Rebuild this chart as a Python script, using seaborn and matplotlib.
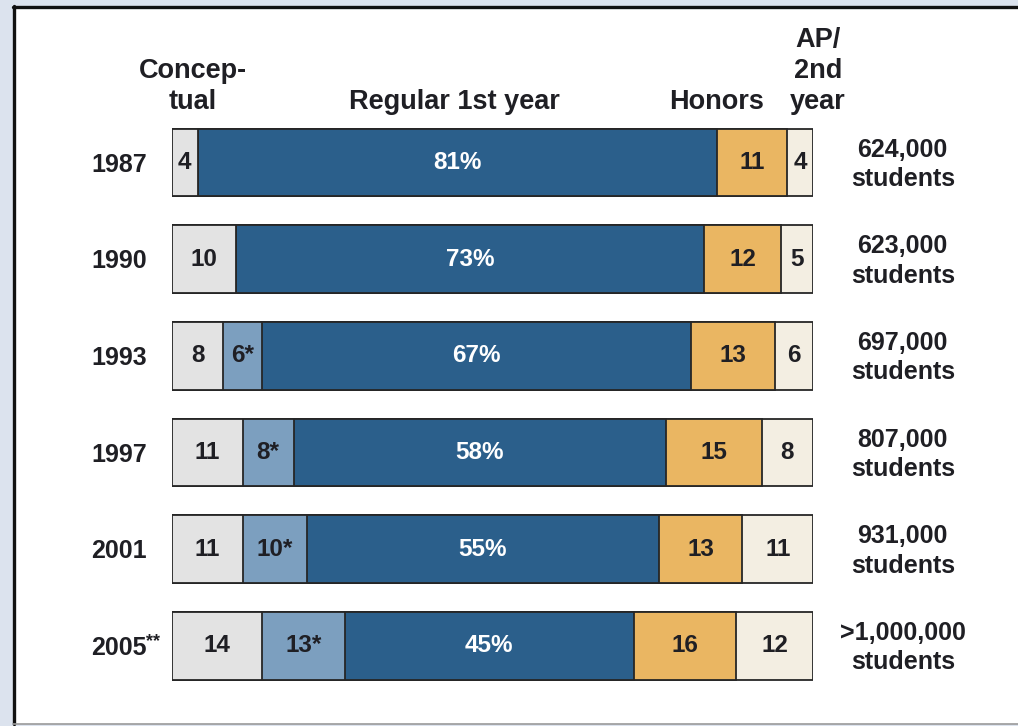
import numpy as np
import pandas as pd
import matplotlib
matplotlib.use("Agg")
import matplotlib.pyplot as plt
from matplotlib.patches import Rectangle
from matplotlib.lines import Line2D
import seaborn as sns

# data (percent of students in each course type)
years = ["1987", "1990", "1993", "1997", "2001", "2005"]
conceptual = [4, 10, 8, 11, 11, 14]
conceptual_star = [0, 0, 6, 8, 10, 13]
regular = [81, 73, 67, 58, 55, 45]
honors = [11, 12, 13, 15, 13, 16]
ap_2nd = [4, 5, 6, 8, 11, 12]
students = ["624,000", "623,000", "697,000", "807,000", "931,000", ">1,000,000"]

headers = ["Concep-\ntual", "Regular 1st year", "Honors", "AP/\n2nd\nyear"]
header_x = [3.3, 44.1, 85.0, 100.8]

colors = ["#e3e3e3", "#7c9fbf", "#2b5f8b", "#eab662", "#f3eee2"]
text_dark = "#1f1f24"

df = pd.DataFrame({
    "year": years,
    "conceptual": conceptual,
    "conceptual_star": conceptual_star,
    "regular": regular,
    "honors": honors,
    "ap": ap_2nd,
})
segs = ["conceptual", "conceptual_star", "regular", "honors", "ap"]
cum = df[segs].cumsum(axis=1)

sns.set_style("white")
plt.rcParams["font.family"] = ["Liberation Sans", "DejaVu Sans"]
plt.rcParams["font.weight"] = "bold"

fig = plt.figure(figsize=(10.18, 7.26), dpi=100)
fig.patch.set_facecolor("#dce3ee")

# white panel with the frame lines
W, H = 1018.0, 726.0
fig.add_artist(Rectangle((13 / W, 1 - 724 / H), 1.0, (724 - 6) / H,
                         transform=fig.transFigure, facecolor="white",
                         edgecolor="none", zorder=-5))
fig.add_artist(Line2D([13.5 / W, 13.5 / W], [1 - 6 / H, 1 - 724 / H],
                      transform=fig.transFigure, color="#111111", lw=2.4))
fig.add_artist(Line2D([13 / W, 1.0], [1 - 6.5 / H, 1 - 6.5 / H],
                      transform=fig.transFigure, color="#111111", lw=2.4))
fig.add_artist(Line2D([13 / W, 1.0], [1 - 724 / H, 1 - 724 / H],
                      transform=fig.transFigure, color="#9a9a9a", lw=1.2))

ax = fig.add_axes([172 / W, 1 - 694 / H, (813 - 172) / W, 580 / H])
ax.patch.set_alpha(0)

# stacked bars: draw cumulative totals from the right-most segment back
for seg, col in reversed(list(zip(segs, colors))):
    sns.barplot(x=cum[seg], y=df["year"], orient="h", color=col,
                saturation=1, errorbar=None, width=0.7,
                edgecolor="#262626", linewidth=1.3, ax=ax)

ax.set_xlim(0, 100)
ax.set_ylim(5.5, -0.5)
ax.set_xlabel("")
ax.set_ylabel("")
ax.set_xticks([])
sns.despine(ax=ax, left=True, bottom=True)
ax.tick_params(axis="y", length=0, pad=18, labelsize=18, labelcolor=text_dark)
for t in ax.get_yticklabels():
    t.set_fontweight("bold")

# segment labels
for i in range(len(years)):
    left = 0
    for seg in segs:
        v = df.loc[i, seg]
        if v > 0:
            mid = left + v / 2
            if seg == "regular":
                ax.text(mid, i, f"{v}%", ha="center", va="center",
                        color="white", fontsize=17.5, fontweight="bold")
            elif seg == "conceptual_star":
                ax.text(mid, i, f"{v}*", ha="center", va="center",
                        color=text_dark, fontsize=17.5, fontweight="bold")
            else:
                ax.text(mid, i, f"{v}", ha="center", va="center",
                        color=text_dark, fontsize=17.5, fontweight="bold")
        left += v
    ax.text(114, i + 0.02, f"{students[i]}\nstudents", ha="center",
            va="center", color=text_dark, fontsize=18, fontweight="bold",
            linespacing=1.28)

ax.annotate("**", xy=(0, 5), xytext=(-19, 3), textcoords="offset points",
            ha="left", va="center", fontsize=13, fontweight="bold",
            color=text_dark)

# column headers above the bars
for x, h in zip(header_x, headers):
    ax.text(x, -0.5 + 0.01, h, ha="center", va="bottom", color=text_dark,
            fontsize=19.5, fontweight="bold", linespacing=1.25)

fig.savefig("out.png", dpi=100)
